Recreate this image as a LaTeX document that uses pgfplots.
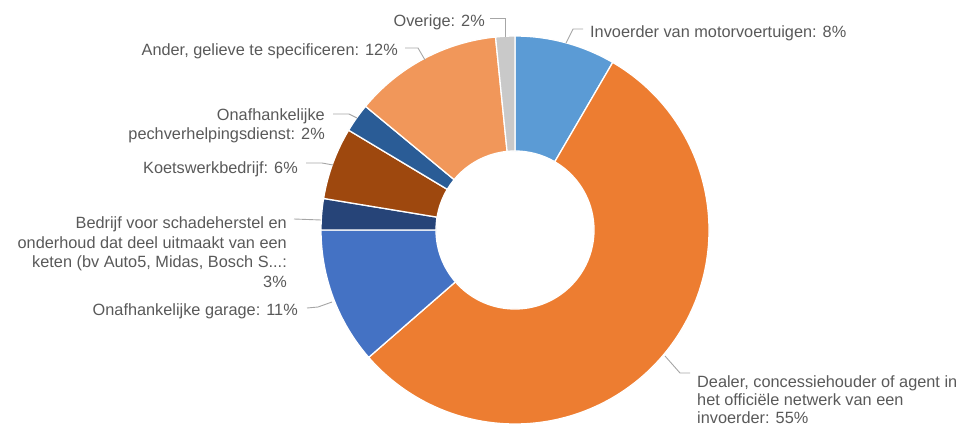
\documentclass[border=0pt]{standalone}
\usepackage{fontspec}
\setmainfont{Liberation Sans}
\usepackage{pgfplots}
\usepackage{pgfplotstable}
\pgfplotsset{compat=1.18}
\definecolor{cInv}{HTML}{5B9BD5}
\definecolor{cDeal}{HTML}{ED7D31}
\definecolor{cGar}{HTML}{4472C4}
\definecolor{cBed}{HTML}{264478}
\definecolor{cKoe}{HTML}{9E480E}
\definecolor{cPech}{HTML}{2A5C96}
\definecolor{cAnd}{HTML}{F1975A}
\definecolor{cOv}{HTML}{C9C9C9}
\definecolor{txt}{HTML}{595959}
\definecolor{lead}{HTML}{A6A6A6}
\newcommand\lbl{\fontsize{16.3bp}{19bp}\selectfont}
\pgfplotstableread{
value color
8.4 cInv
55.2 cDeal
11.4 cGar
2.6 cBed
6.0 cKoe
2.4 cPech
12.4 cAnd
1.6 cOv
}\slices
\begin{document}
\begin{tikzpicture}
\begin{axis}[x=1bp,y=1bp,xmin=0,xmax=967,ymin=0,ymax=426,hide axis,clip=false,scale only axis]
\path (axis cs:0,0) rectangle (axis cs:967,426);
\def\scum{0}
\pgfplotsforeachungrouped \ii in {0,...,7}{%
  \pgfplotstablegetelem{\ii}{value}\of\slices \let\sv\pgfplotsretval
  \pgfplotstablegetelem{\ii}{color}\of\slices \let\scol\pgfplotsretval
  \pgfmathsetmacro\sa{90-3.6*\scum}%
  \pgfmathsetmacro\sb{90-3.6*(\scum+\sv)}%
  \pgfmathsetmacro\xo{515+194*cos(\sa)}%
  \pgfmathsetmacro\yo{196+194*sin(\sa)}%
  \pgfmathsetmacro\xin{515+79*cos(\sb)}%
  \pgfmathsetmacro\yin{196+79*sin(\sb)}%
  \edef\temp{\noexpand\fill[fill=\scol,draw=white,line width=1.3bp,line join=round] (axis cs:\xo,\yo) arc[start angle=\sa,end angle=\sb,radius=194bp] -- (axis cs:\xin,\yin) arc[start angle=\sb,end angle=\sa,radius=79bp] -- cycle;}%
  \temp
  \pgfmathsetmacro\scum{\scum+\sv}%
}
% leader lines
\draw[lead,line width=0.9bp] (axis cs:490,408) -- (axis cs:505,408) -- (axis cs:505,389);
\draw[lead,line width=0.9bp] (axis cs:583,397) -- (axis cs:573,397) -- (axis cs:566,383);
\draw[lead,line width=0.9bp] (axis cs:405,378) -- (axis cs:418,378) -- (axis cs:425,366);
\draw[lead,line width=0.9bp] (axis cs:333,312) -- (axis cs:349,312) -- (axis cs:357,308);
\draw[lead,line width=0.9bp] (axis cs:306,263) -- (axis cs:322,263) -- (axis cs:333,261);
\draw[lead,line width=0.9bp] (axis cs:294,207) -- (axis cs:321,206);
\draw[lead,line width=0.9bp] (axis cs:307,118) -- (axis cs:318,119) -- (axis cs:332,124);
\draw[lead,line width=0.9bp] (axis cs:690,53) -- (axis cs:680,53) -- (axis cs:665,70);
% labels
\node[anchor=base east,font=\lbl,text=txt,inner sep=0pt] at (axis cs:485,399) {Overige: 2\%};
\node[anchor=base west,font=\lbl,text=txt,inner sep=0pt] at (axis cs:590,388) {Invoerder van motorvoertuigen: 8\%};
\node[anchor=base east,font=\lbl,text=txt,inner sep=0pt] at (axis cs:398,371) {Ander, gelieve te specificeren: 12\%};
\node[anchor=base east,font=\lbl,text=txt,inner sep=0pt] at (axis cs:325,306) {Onafhankelijke};
\node[anchor=base east,font=\lbl,text=txt,inner sep=0pt] at (axis cs:325,287) {pechverhelpingsdienst: 2\%};
\node[anchor=base east,font=\lbl,text=txt,inner sep=0pt] at (axis cs:298,253) {Koetswerkbedrijf: 6\%};
\node[anchor=base east,font=\lbl,text=txt,inner sep=0pt] at (axis cs:287,198) {Bedrijf voor schadeherstel en};
\node[anchor=base east,font=\lbl,text=txt,inner sep=0pt] at (axis cs:287,178) {onderhoud dat deel uitmaakt van een};
\node[anchor=base east,font=\lbl,text=txt,inner sep=0pt] at (axis cs:287,159) {keten (bv Auto5, Midas, Bosch S...:};
\node[anchor=base east,font=\lbl,text=txt,inner sep=0pt] at (axis cs:287,139) {3\%};
\node[anchor=base east,font=\lbl,text=txt,inner sep=0pt] at (axis cs:298,111) {Onafhankelijke garage: 11\%};
\node[anchor=base west,font=\lbl,text=txt,inner sep=0pt] at (axis cs:697,39) {Dealer, concessiehouder of agent in};
\node[anchor=base west,font=\lbl,text=txt,inner sep=0pt] at (axis cs:697,21) {het officiële netwerk van een};
\node[anchor=base west,font=\lbl,text=txt,inner sep=0pt] at (axis cs:697,3) {invoerder: 55\%};
\end{axis}
\end{tikzpicture}
\end{document}
